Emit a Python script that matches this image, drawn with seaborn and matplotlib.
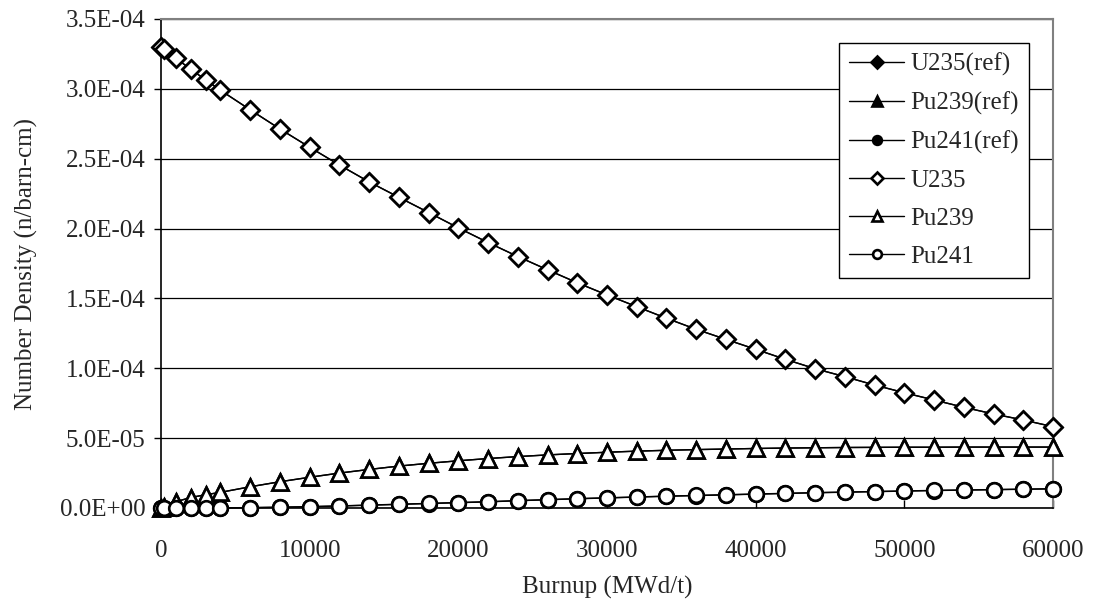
import numpy as np
import pandas as pd
import matplotlib
matplotlib.use("Agg")
import matplotlib.pyplot as plt
from matplotlib.ticker import FuncFormatter
import seaborn as sns

# ---- data ----
burnup = [0, 200, 1000, 2000, 3000, 4000, 6000, 8000, 10000, 12000, 14000, 16000,
          18000, 20000, 22000, 24000, 26000, 28000, 30000, 32000, 34000, 36000,
          38000, 40000, 42000, 44000, 46000, 48000, 50000, 52000, 54000, 56000,
          58000, 60000]

u235 = [33.0, 32.85, 32.2, 31.4, 30.65, 29.9, 28.5, 27.13, 25.82, 24.55, 23.34, 22.24,
        21.15, 20.05, 19.0, 18.0, 17.05, 16.12, 15.25, 14.41, 13.58, 12.79,
        12.07, 11.36, 10.64, 9.97, 9.40, 8.80, 8.25, 7.73, 7.21, 6.73, 6.30, 5.82]
pu239 = [0.0, 0.05, 0.45, 0.75, 0.95, 1.12, 1.52, 1.88, 2.20, 2.50, 2.76, 3.00,
         3.20, 3.38, 3.54, 3.68, 3.80, 3.90, 3.99, 4.07, 4.13, 4.18,
         4.22, 4.26, 4.29, 4.31, 4.33, 4.34, 4.35, 4.35, 4.36, 4.36, 4.36, 4.36]
pu241 = [0.0, 0.0, 0.0, 0.0, 0.01, 0.01, 0.03, 0.06, 0.10, 0.15, 0.21, 0.27,
         0.33, 0.39, 0.45, 0.53, 0.60, 0.67, 0.73, 0.79, 0.85, 0.90,
         0.95, 1.00, 1.05, 1.10, 1.14, 1.18, 1.22, 1.26, 1.29, 1.32, 1.35, 1.38]

u235_ref = [33.0, 32.85, 32.2, 31.4, 30.65, 29.9, 28.5, 27.13, 25.82, 24.55, 23.34, 22.24,
            21.15, 20.05, 19.0, 18.0, 17.05, 16.12, 15.25, 14.41, 13.58, 12.79,
            12.07, 11.36, 10.64, 9.97, 9.40, 8.80, 8.25, 7.73, 7.21, 6.73, 6.30, 5.82]
pu239_ref = [0.0, 0.05, 0.45, 0.75, 0.95, 1.12, 1.52, 1.88, 2.20, 2.50, 2.76, 3.00,
             3.20, 3.38, 3.54, 3.68, 3.80, 3.90, 3.99, 4.07, 4.13, 4.18,
             4.22, 4.26, 4.29, 4.31, 4.33, 4.34, 4.35, 4.35, 4.36, 4.36, 4.36, 4.36]
pu241_ref = [0.0, 0.0, 0.0, 0.0, 0.0, 0.0, 0.02, 0.05, 0.09, 0.14, 0.20, 0.26,
             0.32, 0.38, 0.44, 0.52, 0.59, 0.66, 0.72, 0.78, 0.84, 0.89,
             0.94, 0.99, 1.04, 1.09, 1.13, 1.17, 1.21, 1.25, 1.28, 1.31, 1.34, 1.37]

scale = 1e-5
yticks = [0, 5e-5, 1e-4, 1.5e-4, 2e-4, 2.5e-4, 3e-4, 3.5e-4]
xticks = [0, 10000, 20000, 30000, 40000, 50000, 60000]

# ---- style ----
sns.set_theme(style="white")
plt.rcParams["font.family"] = ["Liberation Serif", "DejaVu Serif"]

fig = plt.figure(figsize=(10.94, 6.05), dpi=100)
ax = fig.add_axes([161/1094, 1 - 508/605, (1053-161)/1094, (508-19)/605])

FS = 18

series = [
    ("U235(ref)", u235_ref, "D", "black", 9.5),
    ("Pu239(ref)", pu239_ref, "^", "black", 11.5),
    ("Pu241(ref)", pu241_ref, "o", "black", 10.5),
    ("U235", u235, "D", "white", 9.5),
    ("Pu239", pu239, "^", "white", 11.5),
    ("Pu241", pu241, "o", "white", 10.5),
]

for i, (name, vals, mk, fc, ms) in enumerate(series):
    df = pd.DataFrame({"x": burnup, "y": np.array(vals) * scale})
    sns.lineplot(data=df, x="x", y="y", ax=ax, color="black", lw=1.0,
                 marker=mk, markersize=ms, markerfacecolor=fc,
                 markeredgecolor="black", markeredgewidth=1.9,
                 label=name, zorder=3 + i, clip_on=False)

ax.set_xlim(0, 60000)
ax.set_ylim(0, 3.5e-4)
ax.set_xticks(xticks)
ax.set_yticks(yticks)
ax.yaxis.set_major_formatter(FuncFormatter(lambda v, p: f"{v:.1E}"))
ax.xaxis.set_major_formatter(FuncFormatter(lambda v, p: f"{int(round(v))}"))

ax.yaxis.grid(True, color="black", lw=0.9)
ax.xaxis.grid(False)
ax.set_axisbelow(True)

for s in ["top", "right"]:
    ax.spines[s].set_color("#808080")
    ax.spines[s].set_linewidth(1.5)
for s in ["left", "bottom"]:
    ax.spines[s].set_color("black")
    ax.spines[s].set_linewidth(1.2)

ax.tick_params(axis="y", direction="out", length=5, width=1, color="black",
               labelsize=FS, pad=6, left=True)
ax.tick_params(axis="x", direction="in", length=6, width=1, color="black",
               labelsize=FS, pad=23, bottom=True)

ax.set_xlabel("Burnup (MWd/t)", fontsize=FS, labelpad=10)
ax.set_ylabel("Number Density (n/barn-cm)", fontsize=FS, labelpad=16)

leg = ax.legend(loc="upper right", bbox_to_anchor=(1029/1094, 1 - 43/605),
                bbox_transform=fig.transFigure, fontsize=FS, frameon=True,
                fancybox=False, edgecolor="black", framealpha=1,
                handlelength=2.2, handletextpad=0.25, labelspacing=0.62,
                borderpad=0.4, markerscale=0.6, borderaxespad=0)
leg.get_frame().set_linewidth(1.0)
leg.set_zorder(20)

fig.savefig("out.png", dpi=100)
